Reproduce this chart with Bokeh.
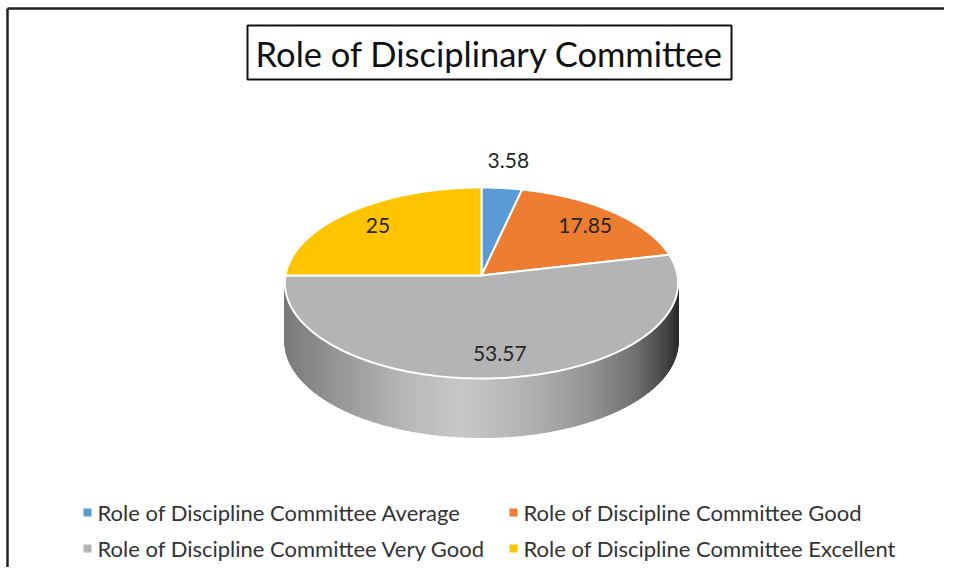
import numpy as np
from bokeh.plotting import figure
from bokeh.models import Range1d
from bokeh.core.properties import value
from bokeh.embed import file_html
from bokeh.resources import INLINE

# ---- data ----
title_text = "Role of Disciplinary Committee"
categories = ["Average", "Good", "Very Good", "Excellent"]
values = [3.58, 17.85, 53.57, 25]
value_labels = ["3.58", "17.85", "53.57", "25"]
legend_labels = ["Role of Discipline Committee Average",
                 "Role of Discipline Committee Good",
                 "Role of Discipline Committee Very Good",
                 "Role of Discipline Committee Excellent"]
colors = ["#5b9bd5", "#ed7d31", "#b4b4b4", "#ffc400"]

W, H = 944, 567
FONT = "Lato"

p = figure(width=W, height=H, output_backend="svg", toolbar_location=None,
           x_range=Range1d(0, W), y_range=Range1d(H, 0),
           min_border=0)
p.axis.visible = False
p.grid.visible = False
p.outline_line_color = None
p.background_fill_color = "white"
p.border_fill_color = "white"

# outer frame (left and top edges visible)
p.segment(x0=[7, 7], y0=[8, 8], x1=[7, W], y1=[H, 8], line_color="#222222", line_width=2.5)

# ---- pie geometry (slight perspective) ----
cx, cy, rx, ry, k, depth = 481, 275, 196, 94.9, 0.0785, 59
total = float(sum(values))
cum = np.concatenate([[0], np.cumsum(values)]) / total * 2 * np.pi

def ex(t, r=1.0):
    return cx + rx * r * np.sin(t) / (1 + k * r * np.cos(t))

def ey(t, r=1.0):
    return cy - ry * r * np.cos(t) / (1 + k * r * np.cos(t))

# side (front half, visible from 90deg to 270deg)
N = 140
th = np.linspace(np.pi / 2, 3 * np.pi / 2, N + 1)
side_xs, side_ys, side_col = [], [], []
tpos = [-1.0, -0.7, -0.35, -0.1, 0.2, 0.5, 0.75, 0.9, 1.0]
gval = [120, 150, 185, 200, 180, 150, 110, 70, 40]
for a, b in zip(th[:-1], th[1:]):
    side_xs.append([ex(a), ex(b), ex(b), ex(a)])
    side_ys.append([ey(a), ey(b), ey(b) + depth, ey(a) + depth])
    g = int(np.interp(np.sin((a + b) / 2), tpos, gval))
    side_col.append("#%02x%02x%02x" % (g, g, g))
p.patches(xs=side_xs, ys=side_ys, fill_color=side_col, line_color=side_col, line_width=1)

# top face wedges
xs, ys = [], []
for i in range(len(values)):
    t = np.linspace(cum[i], cum[i + 1], 160)
    xs.append(np.concatenate([[cx], ex(t), [cx]]).tolist())
    ys.append(np.concatenate([[cy], ey(t), [cy]]).tolist())
p.patches(xs=xs, ys=ys, fill_color=colors, line_color="white", line_width=2)

# data labels
mid = (cum[:-1] + cum[1:]) / 2
rr = np.array([1.35 if v < 5 else 0.78 for v in values])
p.text(x=ex(mid, rr), y=ey(mid, rr), text=value_labels, text_font=value(FONT),
       text_font_size="21px", text_color="#262626", text_align="center", text_baseline="middle")

# title with box
p.quad(left=[247], right=[731], top=[25], bottom=[79], fill_color="white",
       line_color="#111111", line_width=2)
p.text(x=[489], y=[53], text=[title_text], text_font=value(FONT), text_font_size="34.5px",
       text_color="#111111", text_align="center", text_baseline="middle")

# legend
lx = [87, 513, 87, 513]
ly = [512, 512, 548, 548]
p.scatter(x=lx, y=ly, marker="square", size=8, fill_color=colors, line_color=None)
p.text(x=[v + 10 for v in lx], y=ly, text=legend_labels, text_font=value(FONT),
       text_font_size="22px", text_color="#333333", text_align="left", text_baseline="middle")

open("out.html", "w").write(file_html(p, INLINE))
